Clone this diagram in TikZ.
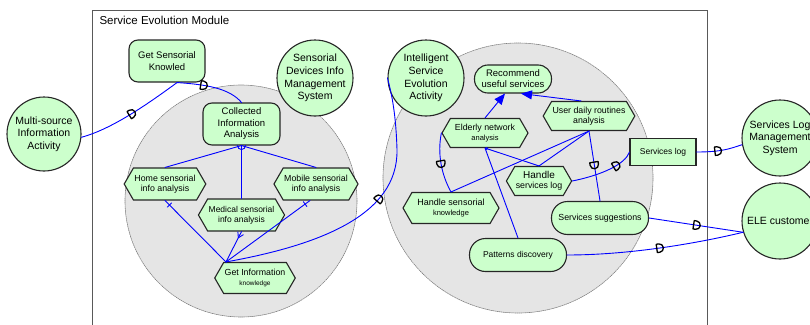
\documentclass[tikz,border=0pt]{standalone}
\usepackage{fontspec}
\setmainfont{Liberation Sans}
\usetikzlibrary{arrows.meta, calc, shapes.symbols, decorations.markings}
\definecolor{useGreen}{RGB}{204,255,204}
\definecolor{zoneGray}{RGB}{229,229,229}
\newcommand{\txtsz}[2]{\fontsize{#1}{#2}\selectfont}
\tikzset{
	modbox/.style={draw=gray!70!black, line width=0.8pt},
	zone/.style={draw=gray, fill=zoneGray, dash pattern=on 1.2pt off 0.8pt, line width=0.6pt},
	ucase/.style={draw=black!85, fill=useGreen, line width=1.1pt, align=center, inner sep=1pt, font=\txtsz{8.8}{10}},
	actor/.style={ucase, circle, minimum size=76pt, inner sep=-8pt, font=\txtsz{10.5}{12.7}},
	rbox/.style={ucase, rectangle, rounded corners=9pt},
	pill/.style={ucase, rectangle, rounded corners=#1},
	hexa/.style={ucase, signal, signal to=east and west, signal pointer angle=120},
	sbox/.style={ucase, rectangle},
	link/.style={draw=blue, line width=0.9pt},
	dsock/.style={postaction={decorate, decoration={markings, mark=at position #1 with {\draw[black, line width=1.3pt, line join=round] (-2.5pt,-4.2pt) -- (0pt,-4.2pt) arc[start angle=-90, end angle=90, radius=4.2pt] -- (-2.5pt,4.2pt) -- cycle;}}}},
	xtick/.style={postaction={decorate, decoration={markings, mark=at position -6pt with {\draw[blue, line width=0.9pt] (0pt,-3pt) -- (0pt,3pt);}}}},
	fork/.style={postaction={decorate, decoration={markings, mark=at position -7pt with {\draw[blue, line width=0.9pt] (0pt,0pt) -- (5pt,3pt) (0pt,0pt) -- (5pt,-3pt);}}}},
}

\begin{document}
\begin{tikzpicture}[x=1pt, y=-1pt, line cap=round]
	\useasboundingbox (0,0) rectangle (810,324);
	\clip (0,0) rectangle (810,324);

	\draw[modbox] (92,10) rectangle (707,340);
	\node[anchor=west, font=\txtsz{11.5}{13}] (title) at (96,20) {Service Evolution Module};

	\draw[zone] (241,201) circle[radius=116];
	\draw[zone] (518,178) circle[radius=135];

	% actors and systems
	\node[actor, minimum size=74pt] (msi) at (44,134) {Multi-source\\Information\\Activity};
	\node[actor] (sdims) at (315,78) {Sensorial\\Devices Info\\Management\\System};
	\node[actor] (isea) at (426,78) {Intelligent\\Service\\Evolution\\Activity};
	\node[actor] (slms) at (780,138) {Services Log\\Management\\System};
	\node[actor] (ele) at (780,221) {ELE customer};

	% left zone
	\node[rbox, minimum width=76pt, minimum height=42pt, font=\txtsz{9.5}{12}] (gsk) at (167,61) {Get Sensorial\\Knowled};
	\node[rbox, minimum width=77pt, minimum height=42pt, font=\txtsz{9.5}{11.5}] (cia) at (241.5,124) {Collected\\Information\\Analysis};
	\node[hexa, minimum width=80pt, minimum height=32pt] (home) at (165,184) {Home sensorial\\info analysis};
	\node[hexa, minimum width=76pt, minimum height=32pt, font=\txtsz{8.5}{10}] (med) at (241.5,215) {Medical sensorial\\info analysis};
	\node[hexa, minimum width=78pt, minimum height=32pt] (mob) at (316,184) {Mobile sensorial\\info analysis};
	\node[hexa, minimum width=79pt, minimum height=31pt] (gin) at (255,278) {Get Information\\{\txtsz{6.5}{8}knowledge}};

	% right zone
	\node[pill=13.5pt, minimum width=77pt, minimum height=28pt, font=\txtsz{9.5}{11}] (rec) at (513,79) {Recommend\\useful services};
	\node[hexa, minimum width=86pt, minimum height=29pt] (ena) at (485,133) {Elderly network\\{\txtsz{7.5}{9}analysis}};
	\node[hexa, minimum width=86pt, minimum height=29pt] (udr) at (589,116) {User daily routines\\analysis};
	\node[hexa, minimum width=64pt, minimum height=29pt] (hsl) at (539,181) {{\txtsz{10}{11}Handle}\\services log};
	\node[hexa, minimum width=96pt, minimum height=31pt, font=\txtsz{9}{10}] (hsk) at (451,208) {Handle sensorial\\{\txtsz{7.5}{9}knowledge}};
	\node[sbox, minimum width=66pt, minimum height=27pt, font=\txtsz{8.5}{10}] (sl) at (663,152) {Services log};
	\node[pill=16pt, minimum width=97pt, minimum height=33pt] (ss) at (600,218) {Services suggestions};
	\node[pill=16pt, minimum width=97pt, minimum height=33pt, font=\txtsz{8.5}{10}] (pd) at (518,255) {Patterns discovery};

	% connectors, left part
	\draw[link, dsock=0.5] (msi.-5) .. controls +(30,-8) and +(-30,22) .. (gsk.-65);
	\draw[link, dsock=0.38] (gsk.-65) .. controls +(30,2) and +(-12,-14) .. (cia.north);
	\draw[link] (cia.south) -- (home.north);
	\draw[link] (cia.south) -- (med.north);
	\draw[link] (cia.south) -- (mob.north);
	\draw[link] ($(cia.south)+(-4pt,0pt)$) arc[start angle=180, end angle=360, radius=4pt];

	\coordinate (gix) at ($(gin.north)+(-29,0)$);
	\draw[link, xtick] (gix) -- (home.south);
	\draw[link, fork] (gix) -- (med.south);
	\draw[link, xtick] (gix) -- (mob.-110);
	\draw[link, dsock=0.57] (gix) .. controls (320,245) and (398,215) .. (397,150) .. controls (396,115) and (392,95) .. (isea.west);

	% connectors, right part
	\draw[link, -{Triangle[length=11pt, width=9pt]}] (ena.north) -- ($(rec.south)+(-8,0)$);
	\draw[link, -{Triangle[length=11pt, width=9pt]}] ($(udr.north)+(-8,0)$) -- ($(rec.south)+(8,0)$);
	\draw[link, dsock=0.5] (ena.west) .. controls +(-4,20) and +(-10,-18) .. (hsk.north);
	\draw[link] (hsk.north) -- (udr.south);
	\draw[link, {Circle[open, length=3pt]}-] (ena.south) -- (hsl.north);
	\draw[link] (hsl.north) -- (udr.south);
	\draw[link] (ena.south) -- (pd.north);
	\draw[link, dsock=0.48] (udr.south) -- (ss.north);
	\draw[link, dsock=0.7] (hsl.east) .. controls +(30,-6) and +(-4,12) .. (sl.west);
	\draw[link, dsock=0.45] (sl.east) .. controls +(25,0) and +(-12,4) .. (slms.190);
	\draw[link, dsock=0.5] (ss.east) -- (ele.197);
	\draw[link, dsock=0.52] (pd.east) .. controls +(60,0) and +(-50,12) .. (ele.197);
\end{tikzpicture}
\end{document}
